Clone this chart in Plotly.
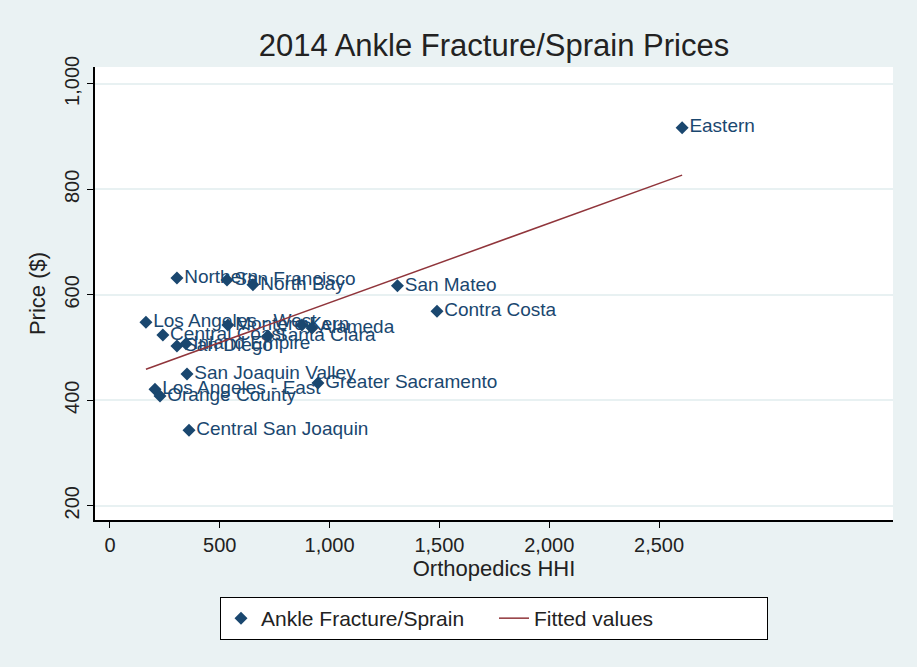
import plotly.graph_objects as go

# Orthopedics HHI vs. ankle fracture/sprain price by rating region
regions = [
    "Eastern", "San Mateo", "Contra Costa", "Northern", "San Francisco",
    "North Bay", "Los Angeles - West", "Central Coast", "San Diego",
    "Inland Empire", "Monterey", "Santa Clara", "Kern", "Alameda",
    "San Joaquin Valley", "Los Angeles - East", "Orange County",
    "Greater Sacramento", "Central San Joaquin",
]
hhi = [2605, 1309, 1489, 305, 533, 651, 164, 241, 305, 346, 537, 719, 874, 920, 351, 205, 228, 947, 360]
price = [917, 617, 569, 632, 628, 619, 548, 524, 503, 507, 543, 522, 543, 537, 450, 421, 408, 433, 343]

fit_x = [164, 2605]
fit_y = [459, 827]

x_ticks = [0, 500, 1000, 1500, 2000, 2500]
y_ticks = [200, 400, 600, 800, 1000]

NAVY = "#1a476f"
MAROON = "#90353b"
BG = "#eaf2f3"
FONT = "Liberation Sans, Arial, sans-serif"

fig = go.Figure()
fig.add_trace(go.Scatter(
    x=hhi, y=price, text=regions,
    mode="markers+text",
    textposition="middle right",
    textfont=dict(family=FONT, size=19, color=NAVY),
    marker=dict(symbol="diamond", size=10, color=NAVY),
    name="Ankle Fracture/Sprain",
))
fig.add_trace(go.Scatter(
    x=fit_x, y=fit_y, mode="lines",
    line=dict(color=MAROON, width=1.5),
    name="Fitted values",
))

fig.update_layout(
    width=917, height=667,
    paper_bgcolor=BG,
    plot_bgcolor="white",
    margin=dict(l=95, r=24, t=67, b=147),
    font=dict(family=FONT, color="#222"),
    title=dict(
        text="2014 Ankle Fracture/Sprain Prices",
        font=dict(size=31, color="#222"),
        x=494 / 917, xanchor="center",
        y=1 - 45 / 667, yanchor="middle",
    ),
    showlegend=True,
    legend=dict(
        orientation="h",
        x=0.5, xanchor="center",
        y=-0.17, yanchor="top",
        bgcolor="white",
        bordercolor="black", borderwidth=1,
        font=dict(size=21, color="#222"),
        entrywidth=228, entrywidthmode="pixels",
    ),
)
fig.update_xaxes(
    range=[-68, 3565],
    tickvals=x_ticks, tickformat=",",
    ticks="outside", ticklen=6, tickcolor="black",
    tickfont=dict(size=20),
    showgrid=False, zeroline=False,
    showline=True, linecolor="black", linewidth=1.5,
    automargin=False,
    title=dict(text="Orthopedics HHI", font=dict(size=22), standoff=0),
)
fig.update_yaxes(
    range=[173, 1032],
    tickvals=y_ticks, tickformat=",",
    ticks="outside", ticklen=6, tickcolor="black",
    tickangle=-90, tickfont=dict(size=20),
    showgrid=True, gridcolor="#e8f1f2", gridwidth=1.5,
    zeroline=False,
    showline=True, linecolor="black", linewidth=1.5,
    automargin=False,
    title=dict(text="Price ($)", font=dict(size=22), standoff=10),
)

# drop the page's default body margin so the figure sits at the window corner
fig.write_html(
    "out.html",
    config={"displayModeBar": False},
    post_script="document.body.style.margin = '0';",
)
